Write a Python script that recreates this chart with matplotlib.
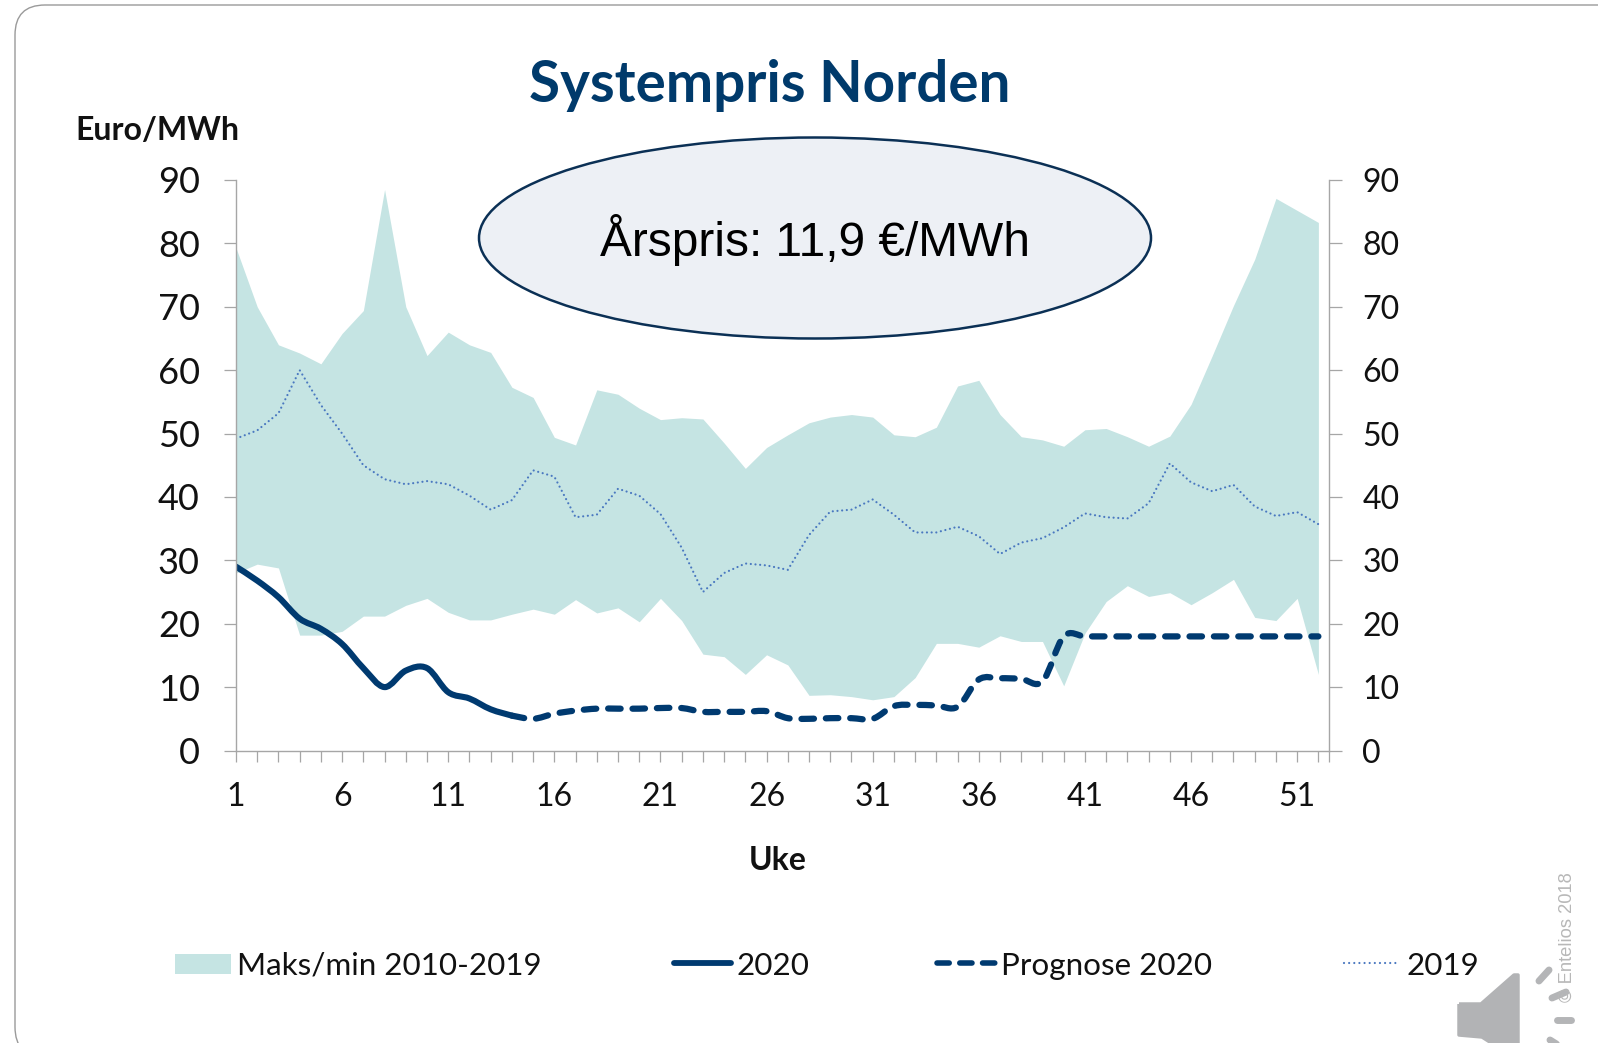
import numpy as np
import matplotlib
matplotlib.use('Agg')
import matplotlib.pyplot as plt
from matplotlib.path import Path
from matplotlib.patches import PathPatch, Ellipse, Polygon

weeks = list(range(1, 53))
tick_weeks = [1, 6, 11, 16, 21, 26, 31, 36, 41, 46, 51]
y_ticks = [0, 10, 20, 30, 40, 50, 60, 70, 80, 90]

maks = [79.3, 70, 64, 62.7, 61, 65.8, 69.4, 88.5, 70, 62.3, 66, 64, 62.8, 57.3, 55.7, 49.4, 48.2, 56.9,
        56.2, 54, 52.2, 52.5, 52.3, 48.5, 44.5, 47.8, 49.8, 51.7, 52.6, 53, 52.6, 49.8, 49.5, 51, 57.5, 58.4,
        53, 49.5, 49, 48, 50.6, 50.8, 49.5, 48, 49.6, 54.6, 62.3, 70.2, 77.5, 87.1, 85.2, 83.3]
mini = [28, 29.4, 28.8, 18.2, 18.2, 18.8, 21.2, 21.2, 22.9, 24, 21.8, 20.6, 20.6, 21.5, 22.3, 21.5, 23.8, 21.7,
        22.5, 20.3, 24, 20.5, 15.2, 14.8, 12, 15.1, 13.5, 8.7, 8.8, 8.5, 8, 8.5, 11.5, 16.9, 16.9, 16.3,
        18.1, 17.2, 17.2, 10.2, 18.5, 23.5, 26, 24.3, 24.9, 23, 24.9, 27, 21, 20.5, 24, 12]
pris_2019 = [49.2, 50.5, 53.2, 60, 54.5, 50, 45, 42.8, 42, 42.5, 42, 40.2, 38, 39.5, 44.2, 43.2, 36.8, 37.2,
             41.3, 40.2, 37.3, 32, 25, 28, 29.5, 29.2, 28.5, 34, 37.7, 38, 39.6, 37.2, 34.4, 34.4, 35.3, 33.8,
             31, 32.8, 33.5, 35.2, 37.4, 36.8, 36.6, 39, 45.3, 42.3, 40.9, 41.9, 38.5, 37, 37.6, 35.7]
weeks_2020 = weeks[:14]
pris_2020 = [29, 26.8, 24.2, 20.8, 19.2, 16.8, 13, 10, 12.6, 13, 9.2, 8.2, 6.5, 5.5]
weeks_prognose = weeks[13:]
prognose = [5.5, 5, 5.8, 6.3, 6.6, 6.6, 6.6, 6.7, 6.7, 6.1, 6.1, 6.1, 6.2, 5.1, 5, 5.1, 5.1, 5, 7, 7.2, 7.1, 6.9,
            11.2, 11.4, 11.3, 10.9, 18, 18, 18, 18, 18, 18, 18, 18, 18, 18, 18, 18, 18]

BAND = '#c5e4e3'
NAVY = '#003a70'
DOT = '#4a78c0'
GREY = '#a6a6a6'
FONT = 'Lato'
W, H = 1598, 1043


# smoothed line like the Excel one, goes through every value
def smooth_path(x, y):
    pts = np.column_stack([x, y]).astype(float)
    verts = [pts[0]]
    codes = [Path.MOVETO]
    for i in range(len(pts) - 1):
        p0 = pts[max(i - 1, 0)]
        p1 = pts[i]
        p2 = pts[i + 1]
        p3 = pts[min(i + 2, len(pts) - 1)]
        verts += [p1 + (p2 - p0) / 6, p2 - (p3 - p1) / 6, p2]
        codes += [Path.CURVE4] * 3
    return Path(verts, codes)


fig = plt.figure(figsize=(W / 100, H / 100), dpi=100)
ax = fig.add_axes([236 / W, 1 - 750.5 / H, (1329 - 236) / W, (750.5 - 180) / H])
ax.set_xlim(1, 52.5)
ax.set_ylim(0, 90)

ax.fill_between(weeks, mini, maks, color=BAND, linewidth=0)
ax.plot(weeks, pris_2019, color=DOT, linewidth=1.6, linestyle=(0, (0.01, 2.1)), dash_capstyle='round')
ax.add_patch(PathPatch(smooth_path(weeks_2020, pris_2020), fill=False, edgecolor=NAVY, linewidth=4.4,
                       capstyle='round', joinstyle='round'))
ax.add_patch(PathPatch(smooth_path(weeks_prognose, prognose), fill=False, edgecolor=NAVY, linewidth=4.5,
                       linestyle=(0, (2.0, 1.9)), capstyle='round', joinstyle='round'))

ax.spines['top'].set_visible(False)
for s in ['left', 'right', 'bottom']:
    ax.spines[s].set_color(GREY)
    ax.spines[s].set_linewidth(1.0)

ax.set_xticks(weeks + [52.5])
ax.set_xticklabels([str(w) if w in tick_weeks else '' for w in weeks] + [''],
                   family=FONT, fontsize=23, color='#111111')
ax.tick_params(axis='x', length=8, width=0.9, color=GREY, pad=14.5)
ax.set_yticks(y_ticks)
ax.set_yticklabels([str(v) for v in y_ticks], family=FONT, fontsize=26, color='#111111')
ax.tick_params(axis='y', length=9, width=0.9, color=GREY, pad=17)

axr = ax.twinx()
axr.set_ylim(0, 90)
axr.set_yticks(y_ticks)
axr.set_yticklabels([str(v) for v in y_ticks], family=FONT, fontsize=23, color='#111111')
axr.tick_params(axis='y', length=9, width=0.9, color=GREY, pad=15)
for s in axr.spines.values():
    s.set_visible(False)

# everything outside the plot is placed in pixels of the slide
ov = fig.add_axes([0, 0, 1, 1], zorder=5)
ov.patch.set_alpha(0)
ov.axis('off')

frame = Path([(1620, 5), (45, 5), (15, 5), (15, 35), (15, 1027), (15, 1057), (45, 1057)],
             [Path.MOVETO, Path.LINETO, Path.CURVE3, Path.CURVE3, Path.LINETO, Path.CURVE3, Path.CURVE3])
ov.add_patch(PathPatch(frame, fill=False, edgecolor='#9a9a9a', linewidth=1.0))

ov.text(770, 85, 'Systempris Norden', family=FONT, fontweight='bold', fontsize=40.7, color='#003a6b',
        ha='center', va='center')
ov.text(157, 130, 'Euro/MWh', family=FONT, fontweight='bold', fontsize=23, color='#111111',
        ha='center', va='center')
ov.text(778, 861, 'Uke', family=FONT, fontweight='bold', fontsize=23, color='#111111',
        ha='center', va='center')

ov.add_patch(Ellipse((815, 238), 672, 201, facecolor='#edf0f5', edgecolor='#0b3055', linewidth=1.8))
ov.text(815, 240, 'Årspris: 11,9 €/MWh', family='Liberation Sans', fontsize=34.5, color='black',
        ha='center', va='center')

# legend, the gaps are uneven in the original so no ax.legend here
ov.add_patch(Polygon([(175, 954), (231, 954), (231, 974), (175, 974)], facecolor=BAND, edgecolor='none'))
ov.plot([674, 731], [963, 963], color=NAVY, linewidth=4.2, solid_capstyle='round')
ov.plot([937, 997], [963, 963], color=NAVY, linewidth=4.0, linestyle=(0, (2.2, 1.9)), dash_capstyle='round')
ov.plot([1344, 1398], [963, 963], color=DOT, linewidth=1.6, linestyle=(0, (0.01, 2.3)), dash_capstyle='round')
for x, label in [(237, 'Maks/min 2010-2019'), (736, '2020'), (1001, 'Prognose 2020'), (1406, '2019')]:
    ov.text(x, 966, label, family=FONT, fontsize=22.6, color='#111111', ha='left', va='center')

ov.text(1567, 937, '© Entelios 2018', family='Liberation Sans', fontsize=13.2, color='#b8b8b8',
        rotation=90, ha='center', va='center')

# speaker icon in the corner
horn_pts = [(1459, 1004), (1481, 1004), (1514, 975), (1518, 975), (1518, 1060), (1482, 1037), (1459, 1035),
            (1459, 1004)]
ov.add_patch(PathPatch(Path(horn_pts), facecolor='#b2b3b5', edgecolor='#b2b3b5', linewidth=2.5, joinstyle='round'))
grad = np.linspace(0.76, 0.64, 64).reshape(-1, 1)
img = ov.imshow(grad, cmap='gray', vmin=0, vmax=1, extent=(1456, 1522, 1050, 972), aspect='auto')
horn = PathPatch(Path(horn_pts), facecolor='none', edgecolor='none')
ov.add_patch(horn)
img.set_clip_path(horn)
for x0, y0, x1, y1 in [(1539, 981, 1549, 970), (1552, 998, 1566, 992), (1557, 1020, 1571, 1020),
                       (1550, 1040, 1566, 1050)]:
    ov.plot([x0, x1], [y0, y1], color='#b4b5b7', linewidth=5, solid_capstyle='round')

ov.set_xlim(0, W)
ov.set_ylim(H, 0)

fig.savefig('out.png', dpi=100, facecolor='white')
